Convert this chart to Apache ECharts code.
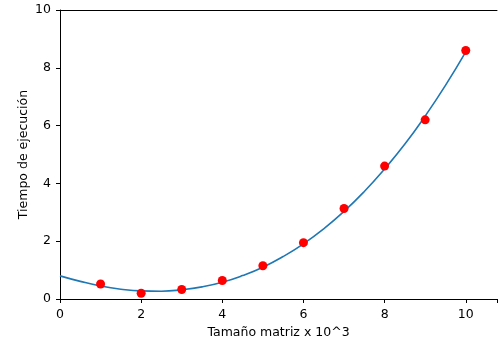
<!DOCTYPE html>
<html>
<head>
<meta charset="utf-8">
<script src="https://cdn.jsdelivr.net/npm/echarts@6/dist/echarts.min.js"></script>
<style>
html,body{margin:0;padding:0;background:#fff;}
#main{width:500px;height:347px;}
</style>
</head>
<body>
<div id="main"></div>
<script>
// puntos medidos
var tamanos = [1, 2, 3, 4, 5, 6, 7, 8, 9, 10];
var tiempos = [0.52, 0.2, 0.33, 0.64, 1.15, 1.95, 3.13, 4.6, 6.2, 8.6];

// curva ajustada
var curva_x = [0, 0.5, 1, 1.5, 2, 2.5, 3, 3.5, 4, 4.5, 5, 5.5, 6, 6.5, 7, 7.5, 8, 8.5, 9, 9.5, 10];
var curva_y = [0.8, 0.61, 0.45, 0.34, 0.28, 0.27, 0.32, 0.42, 0.58, 0.81, 1.1, 1.47, 1.91, 2.43, 3.03, 3.72, 4.5, 5.36, 6.33, 7.39, 8.55];

var ticks_x = [0, 2, 4, 6, 8, 10];

var puntos = [];
for (var i = 0; i < tamanos.length; i++) {
    puntos.push([tamanos[i], tiempos[i]]);
}
var linea = [];
for (var j = 0; j < curva_x.length; j++) {
    linea.push([curva_x[j], curva_y[j]]);
}

var fuente = 'DejaVu Sans';
var myChart = echarts.init(document.getElementById('main'));
var option = {
    animation: false,
    grid: {left: 60, right: 0, top: 10, bottom: 48},
    xAxis: [{
        type: 'value',
        min: 0,
        max: 10.77,
        interval: 2,
        name: 'Tamaño matriz x 10^3',
        nameLocation: 'middle',
        nameGap: 27,
        nameMoveOverlap: false,
        nameTextStyle: {color: '#000', fontSize: 12.5, fontFamily: fuente},
        axisLine: {lineStyle: {color: '#000', width: 1}},
        axisTick: {show: true, length: 4, lineStyle: {color: '#000'}},
        axisLabel: {
            color: '#000', fontSize: 12.5, fontFamily: fuente, margin: 9,
            formatter: function (v) {
                return ticks_x.indexOf(v) >= 0 ? String(v) : '';
            }
        },
        splitLine: {show: false}
    }, {
        type: 'value',
        position: 'top',
        min: 0,
        max: 10.77,
        axisLine: {show: true, lineStyle: {color: '#000', width: 1}},
        axisTick: {show: false},
        axisLabel: {show: false},
        splitLine: {show: false}
    }],
    yAxis: {
        type: 'value',
        min: 0,
        max: 10,
        interval: 2,
        name: 'Tiempo de ejecución',
        nameLocation: 'middle',
        nameGap: 30,
        nameMoveOverlap: false,
        nameTextStyle: {color: '#000', fontSize: 12.5, fontFamily: fuente},
        axisLine: {show: true, lineStyle: {color: '#000', width: 1}},
        axisTick: {show: true, length: 4, lineStyle: {color: '#000'}},
        axisLabel: {color: '#000', fontSize: 12.5, fontFamily: fuente, margin: 9},
        splitLine: {show: false}
    },
    series: [
        {
            type: 'line',
            data: linea,
            smooth: true,
            showSymbol: false,
            lineStyle: {color: '#1f77b4', width: 1.6},
            z: 2
        },
        {
            type: 'scatter',
            data: puntos,
            symbolSize: 9,
            itemStyle: {color: '#ff0000', opacity: 1},
            z: 3
        }
    ]
};
myChart.setOption(option);
</script>
</body>
</html>
